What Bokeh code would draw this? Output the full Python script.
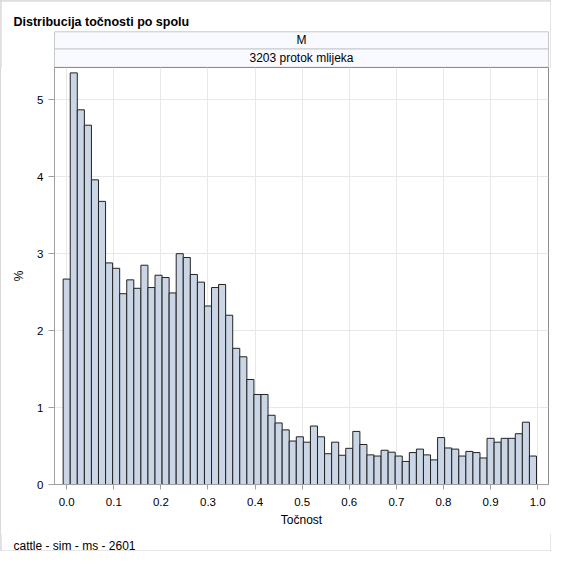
from bokeh.plotting import figure
from bokeh.layouts import column
from bokeh.models import Range1d, FixedTicker, PrintfTickFormatter
from bokeh.core.properties import value
from bokeh.embed import file_html
from bokeh.resources import INLINE

# ---- data (bin centres of accuracy histogram and percentage per bin) ----
bin_width = 0.015
bin_centers = [round(i * 0.015, 3) for i in range(67)]
percent = [
    2.67, 5.35, 4.87, 4.67, 3.96, 3.68, 2.88, 2.81, 2.48, 2.66,
    2.55, 2.85, 2.56, 2.72, 2.69, 2.49, 3.00, 2.95, 2.73, 2.63,
    2.32, 2.56, 2.60, 2.20, 1.77, 1.66, 1.365, 1.17, 1.17, 0.90,
    0.80, 0.71, 0.565, 0.62, 0.55, 0.76, 0.62, 0.40, 0.55, 0.38,
    0.47, 0.69, 0.52, 0.385, 0.37, 0.445, 0.42, 0.37, 0.30, 0.415,
    0.46, 0.385, 0.32, 0.61, 0.475, 0.46, 0.37, 0.43, 0.415, 0.345,
    0.60, 0.55, 0.60, 0.60, 0.66, 0.81, 0.37,
]
x_ticks = [0.0, 0.1, 0.2, 0.3, 0.4, 0.5, 0.6, 0.7, 0.8, 0.9, 1.0]
y_ticks = [0, 1, 2, 3, 4, 5]

title_text = "Distribucija točnosti po spolu"
header1 = "M"
header2 = "3203 protok mlijeka"
x_label = "Točnost"
y_label = "%"
footnote = "cattle - sim - ms - 2601"

FONT = "Liberation Sans"
W = 551
TOP_H = 67      # title + header cells
MAIN_H = 467    # plot with axes
FOOT_H = W - TOP_H - MAIN_H
FRAME_L, FRAME_R = 54, 548
BORDER = "#cccccc"


def blank(height):
    f = figure(width=W, height=height, output_backend="svg", toolbar_location=None,
               x_range=Range1d(0, W), y_range=Range1d(height, 0),
               x_axis_location=None, y_axis_location=None,
               min_border=0, min_border_left=0, min_border_right=0,
               min_border_top=0, min_border_bottom=0, frame_align=False)
    f.grid.visible = False
    f.outline_line_color = None
    f.background_fill_color = "white"
    f.border_fill_color = "white"
    return f


# ---- top part: title and header cells ----
top = blank(TOP_H)
top.text(x=[13], y=[21], text=[title_text], text_font=value(FONT),
         text_font_size="12.5px", text_font_style="bold", text_color="black",
         text_baseline="alphabetic", text_align="left")
cells_top = [31.3, 48.5]
cells_bot = [48.5, 66.8]
top.quad(left=[FRAME_L, FRAME_L], right=[FRAME_R, FRAME_R], top=cells_top, bottom=cells_bot,
         fill_color="#F8FAFF", line_color="#c8c8c8", line_width=1)
top.text(x=[(FRAME_L + FRAME_R) / 2] * 2,
         y=[(a + b) / 2 for a, b in zip(cells_top, cells_bot)],
         text=[header1, header2], text_font=value(FONT), text_font_size="12px",
         text_color="black", text_align="center", text_baseline="middle")
top.segment(x0=[0.5, 550.5, 0], y0=[0, 0, 0.5], x1=[0.5, 550.5, W], y1=[TOP_H, TOP_H, 0.5],
            line_color=BORDER, line_width=1)

# ---- main histogram ----
p = figure(width=W, height=MAIN_H, output_backend="svg", toolbar_location=None,
           x_range=Range1d(-0.0259, 1.023), y_range=Range1d(0, 5.42),
           min_border_left=FRAME_L, min_border_right=W - FRAME_R, min_border_top=0,
           min_border_bottom=50, frame_align=False)
p.background_fill_color = "white"
p.border_fill_color = "white"
p.outline_line_color = "#8c8c8c"
p.outline_line_width = 1

p.vbar(x=bin_centers, width=bin_width, top=percent, bottom=0,
       fill_color="#CAD5E5", line_color="#222222", line_width=1)

for ax in (p.xaxis[0], p.yaxis[0]):
    ax.axis_line_color = "#a0a0a0"
    ax.major_tick_line_color = "#a0a0a0"
    ax.minor_tick_line_color = None
    ax.major_tick_in = 0
    ax.major_tick_out = 6
    ax.major_label_text_font = FONT
    ax.major_label_text_font_size = "11.5px"
    ax.major_label_text_color = "black"
    ax.axis_label_text_font = FONT
    ax.axis_label_text_font_size = "12px"
    ax.axis_label_text_font_style = "normal"
    ax.axis_label_text_color = "black"

p.xaxis.ticker = FixedTicker(ticks=x_ticks)
p.xaxis.formatter = PrintfTickFormatter(format="%.1f")
p.xaxis.axis_label = x_label
p.xaxis.major_tick_out = 5
p.xaxis.major_label_standoff = 8
p.xaxis.axis_label_standoff = 4

p.yaxis.ticker = FixedTicker(ticks=y_ticks)
p.yaxis.axis_label = y_label
p.yaxis.major_label_standoff = 5
p.yaxis.axis_label_standoff = 8

p.xgrid.ticker = FixedTicker(ticks=x_ticks)
p.ygrid.ticker = FixedTicker(ticks=y_ticks)
p.xgrid.grid_line_color = "#e8e8e8"
p.ygrid.grid_line_color = "#e8e8e8"

# ---- footnote ----
foot = blank(FOOT_H)
foot.text(x=[13], y=[11], text=[footnote], text_font=value(FONT), text_font_size="12px",
          text_color="black", text_baseline="alphabetic", text_align="left")
foot.segment(x0=[0.5, 550.5, 0], y0=[0, 0, FOOT_H - 0.5], x1=[0.5, 550.5, W],
             y1=[FOOT_H, FOOT_H, FOOT_H - 0.5], line_color=BORDER, line_width=1)

layout = column(top, p, foot, spacing=0,
                styles={"outline": "1px solid #cccccc", "outline-offset": "-1px"})

open("out.html", "w").write(file_html(layout, INLINE))
